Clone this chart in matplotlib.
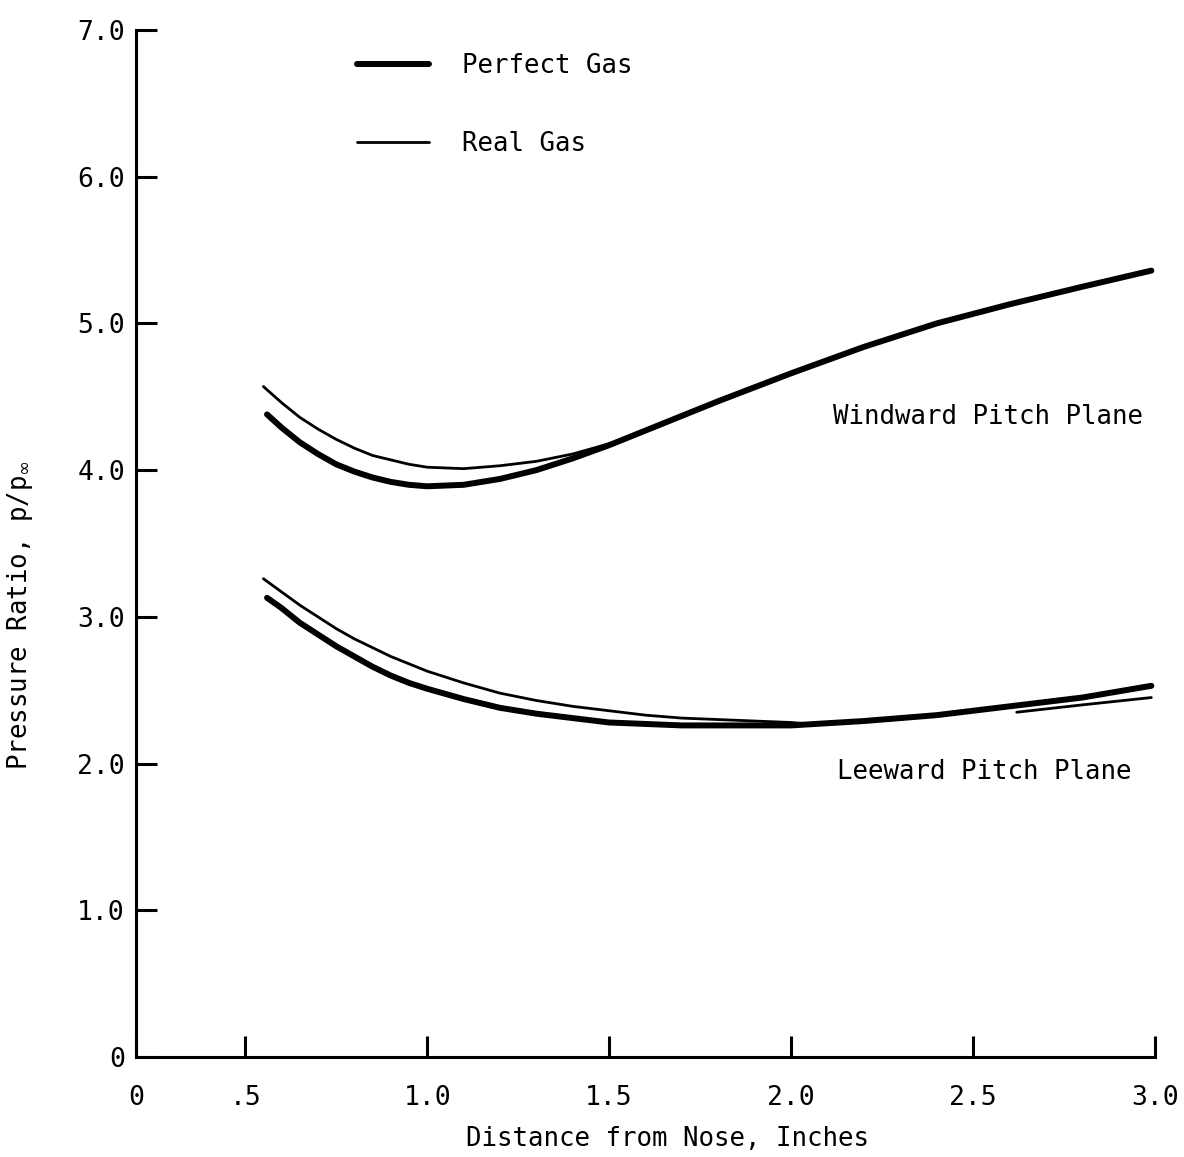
import matplotlib
matplotlib.use('Agg')
import numpy as np
import matplotlib.pyplot as plt

plt.rcParams['font.family'] = ['DejaVu Sans Mono', 'DejaVu Sans']
plt.rcParams['mathtext.fontset'] = 'dejavusans'

# windward pitch plane
wind_x_perf = [0.56, 0.6, 0.65, 0.7, 0.75, 0.8, 0.85, 0.9, 0.95, 1.0, 1.1, 1.2, 1.3, 1.4, 1.5,
               1.6, 1.8, 2.0, 2.2, 2.4, 2.6, 2.8, 2.99]
wind_y_perf = [4.38, 4.29, 4.19, 4.11, 4.04, 3.99, 3.95, 3.92, 3.90, 3.89, 3.90, 3.94, 4.00, 4.08, 4.17,
               4.27, 4.47, 4.66, 4.84, 5.00, 5.13, 5.25, 5.36]
wind_x_real = [0.55, 0.6, 0.65, 0.7, 0.75, 0.8, 0.85, 0.9, 0.95, 1.0, 1.1, 1.2, 1.3, 1.4, 1.5]
wind_y_real = [4.57, 4.46, 4.36, 4.28, 4.21, 4.15, 4.10, 4.07, 4.04, 4.02, 4.01, 4.03, 4.06, 4.11, 4.18]

# leeward pitch plane
lee_x_perf = [0.56, 0.6, 0.65, 0.7, 0.75, 0.8, 0.85, 0.9, 0.95, 1.0, 1.1, 1.2, 1.3, 1.4, 1.5,
              1.6, 1.7, 1.8, 1.9, 2.0, 2.2, 2.4, 2.6, 2.8, 2.99]
lee_y_perf = [3.13, 3.06, 2.96, 2.88, 2.80, 2.73, 2.66, 2.60, 2.55, 2.51, 2.44, 2.38, 2.34, 2.31, 2.28,
              2.27, 2.26, 2.26, 2.26, 2.26, 2.29, 2.33, 2.39, 2.45, 2.53]
lee_x_real = [0.55, 0.6, 0.65, 0.7, 0.75, 0.8, 0.85, 0.9, 0.95, 1.0, 1.1, 1.2, 1.3, 1.4, 1.5,
              1.6, 1.7, 1.8, 1.9, 2.0, 2.05]
lee_y_real = [3.26, 3.17, 3.08, 3.00, 2.92, 2.85, 2.79, 2.73, 2.68, 2.63, 2.55, 2.48, 2.43, 2.39, 2.36,
              2.33, 2.31, 2.30, 2.29, 2.28, 2.27]
lee_x_real2 = [2.62, 2.8, 2.99]
lee_y_real2 = [2.35, 2.40, 2.45]

xticks = [0.2, 0.5, 1.0, 1.5, 2.0, 2.5, 3.0]
xlabels = ['0', '.5', '1.0', '1.5', '2.0', '2.5', '3.0']
yticks = [0, 1, 2, 3, 4, 5, 6, 7]
ylabels = ['0', '1.0', '2.0', '3.0', '4.0', '5.0', '6.0', '7.0']

fig = plt.figure(figsize=(11.84, 11.57), dpi=100)
ax = fig.add_axes([136/1184, 1 - 1057/1157, 1019/1184, 1027/1157])

thick = dict(color='black', linewidth=4.3, solid_capstyle='round', solid_joinstyle='round')
thin = dict(color='black', linewidth=2.0, solid_capstyle='round', solid_joinstyle='round')

ax.plot(wind_x_perf, wind_y_perf, label='Perfect Gas', **thick)
ax.plot(wind_x_real, wind_y_real, label='Real Gas', **thin)
ax.plot(lee_x_perf, lee_y_perf, **thick)
ax.plot(lee_x_real, lee_y_real, **thin)
ax.plot(lee_x_real2, lee_y_real2, **thin)

ax.set_xlim(0.2, 3.0)
ax.set_ylim(0, 7.0)
ax.set_xticks(xticks)
ax.set_xticklabels(xlabels)
ax.set_yticks(yticks)
ax.set_yticklabels(ylabels)

for s in ['top', 'right']:
    ax.spines[s].set_visible(False)
for s in ['left', 'bottom']:
    ax.spines[s].set_linewidth(2.2)

ax.tick_params(direction='in', length=15, width=2.2, labelsize=19, colors='black')
ax.tick_params(axis='x', pad=20)
ax.tick_params(axis='y', pad=8)

ax.set_xlabel('Distance from Nose, Inches', fontsize=18.5)
ax.set_ylabel(r'Pressure Ratio, p/p$_\infty$', fontsize=18.5)
ax.xaxis.set_label_coords(0.522, -0.067)
ax.yaxis.set_label_coords(-0.099, 0.43)

ax.text(2.54, 4.36, 'Windward Pitch Plane', fontsize=18.5, ha='center', va='center')
ax.text(2.53, 1.94, 'Leeward Pitch Plane', fontsize=18.5, ha='center', va='center')

ax.legend(loc='upper left', bbox_to_anchor=(0.217, 0.978), frameon=False,
          fontsize=18.5, handlelength=2.8, handletextpad=1.3, labelspacing=2.05,
          borderaxespad=0, borderpad=0)

plt.savefig('out.png', dpi=100)
plt.close()
